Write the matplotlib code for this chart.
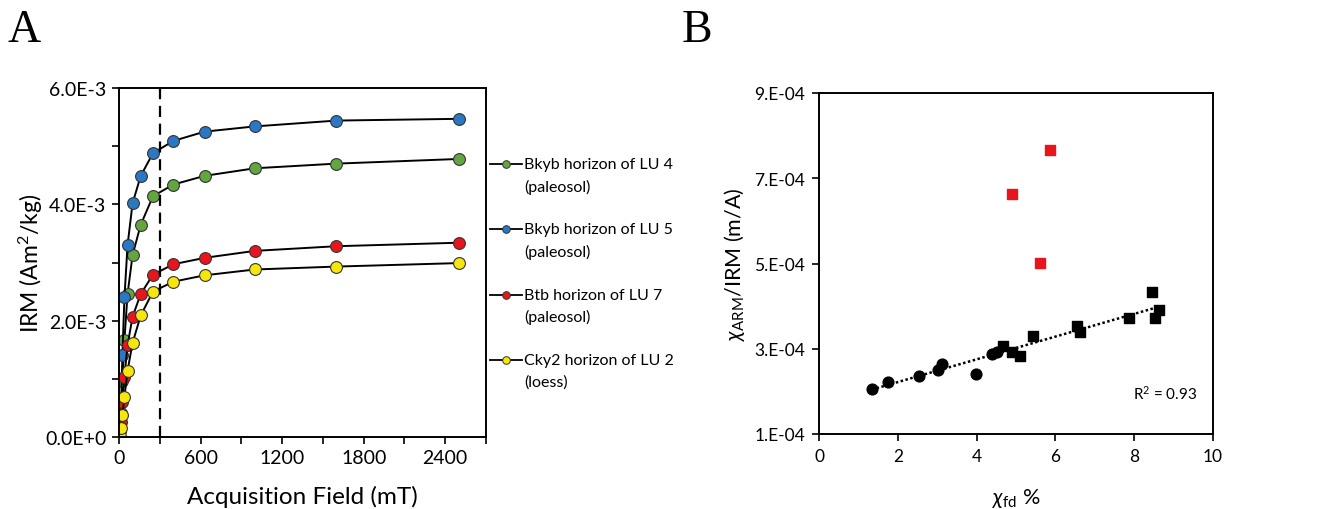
import matplotlib.pyplot as plt
from matplotlib.lines import Line2D
import numpy as np

plt.rcParams['font.family'] = ['Lato', 'DejaVu Sans']
plt.rcParams['mathtext.fontset'] = 'custom'
plt.rcParams['mathtext.rm'] = 'Lato'
plt.rcParams['mathtext.it'] = 'Lato:italic'

W, H = 1317, 510

# Panel A: IRM acquisition curves
field = [0, 10, 16, 25, 40, 63, 100, 160, 250, 400, 630, 1000, 1600, 2500]
irm_lu4 = [0, 0.20, 0.42, 0.96, 1.67, 2.46, 3.13, 3.65, 4.14, 4.34, 4.49, 4.62, 4.70, 4.78]
irm_lu5 = [0, 0.30, 0.60, 1.41, 2.40, 3.30, 4.02, 4.49, 4.88, 5.09, 5.25, 5.34, 5.44, 5.47]
irm_lu7 = [0, 0.10, 0.26, 0.60, 1.04, 1.58, 2.07, 2.46, 2.79, 2.97, 3.08, 3.20, 3.28, 3.34]
irm_lu2 = [0, 0.02, 0.15, 0.37, 0.69, 1.14, 1.62, 2.09, 2.50, 2.67, 2.78, 2.88, 2.93, 2.99]

series_line1 = ['Bkyb horizon of LU 4', 'Bkyb horizon of LU 5',
                'Btb horizon of LU 7', 'Cky2 horizon of LU 2']
series_line2 = ['(paleosol)', '(paleosol)', '(paleosol)', '(loess)']
series_colors = ['#63a53f', '#2a77c4', '#e8161c', '#f6e60c']

# Panel B: chi_ARM/IRM vs chi_fd
circ_x = [1.34, 1.76, 2.54, 3.01, 3.13, 3.99, 4.40, 4.51]
circ_y = [2.06, 2.21, 2.36, 2.50, 2.64, 2.40, 2.87, 2.92]
sq_x = [4.67, 4.90, 5.11, 5.44, 6.54, 6.63, 7.87, 8.46, 8.53, 8.64]
sq_y = [3.07, 2.93, 2.84, 3.29, 3.54, 3.40, 3.72, 4.34, 3.73, 3.90]
red_x = [5.86, 4.90, 5.62]
red_y = [7.67, 6.64, 5.01]

fig = plt.figure(figsize=(W / 100, H / 100), dpi=100)

# ---- panel A ----
axA = fig.add_axes([119/W, 1-438/H, 367/W, 349/H])
for ys, col in zip([irm_lu4, irm_lu5, irm_lu7, irm_lu2], series_colors):
    axA.plot(field, np.array(ys) * 1e-3, '-', color='black', lw=1.4,
             marker='o', ms=8.5, mfc=col, mec='#333333', mew=0.8)
axA.axvline(300, color='black', ls=(0, (5, 3)), lw=1.6)
axA.set_xlim(0, 2700)
axA.set_ylim(0, 6e-3)
axA.set_xticks(np.arange(0, 2701, 300))
axA.set_xticklabels([str(v) if v % 600 == 0 else '' for v in range(0, 2701, 300)])
axA.set_yticks(np.arange(0, 6.01e-3, 1e-3))
axA.set_yticklabels(['0.0E+0', '', '2.0E-3', '', '4.0E-3', '', '6.0E-3'])
axA.tick_params(labelsize=14, length=5, width=1.2, direction='out', pad=4)
for s in axA.spines.values():
    s.set_linewidth(1.4)
axA.set_ylabel('IRM (Am$^2$/kg)', fontsize=16.5, labelpad=0)
axA.set_xlabel('Acquisition Field (mT)', fontsize=17.5, labelpad=13)

# legend, drawn by hand so the marker lines up with the first text line
for i, (t1, t2, col) in enumerate(zip(series_line1, series_line2, series_colors)):
    yrow = 1 - (165 + 65.3 * i) / H
    fig.add_artist(Line2D([490/W, 522/W], [yrow, yrow], color='black', lw=1.3))
    fig.add_artist(Line2D([506/W], [yrow], marker='o', ms=5.5, mfc=col,
                          mec='#333333', mew=0.7, ls='none'))
    fig.text(524/W, yrow, t1, fontsize=11.5, va='center', ha='left')
    fig.text(524/W, yrow - 22/H, t2, fontsize=11.5, va='center', ha='left')

fig.text(8/W, 1-31/H, 'A', fontsize=33, family='Liberation Serif', va='center')
fig.text(682/W, 1-31/H, 'B', fontsize=33, family='Liberation Serif', va='center')

# ---- panel B ----
axB = fig.add_axes([819/W, 1-435/H, 394/W, 341/H])
axB.scatter(circ_x, np.array(circ_y) * 1e-4, marker='o', s=60, color='black', zorder=3)
axB.scatter(sq_x, np.array(sq_y) * 1e-4, marker='s', s=55, color='black', zorder=3)
axB.scatter(red_x, np.array(red_y) * 1e-4, marker='s', s=55, color='#e8161c', zorder=3)
all_x = np.array(circ_x + sq_x)
all_y = np.array(circ_y + sq_y) * 1e-4
k, b = np.polyfit(all_x, all_y, 1)
xx = np.array([all_x.min(), all_x.max()])
axB.plot(xx, k * xx + b, color='black', ls=(0, (1, 1)), lw=1.8, zorder=2)
axB.text(0.96, 0.12, 'R$^2$ = 0.93', transform=axB.transAxes, ha='right', va='center', fontsize=11)
axB.set_xlim(0, 10)
axB.set_ylim(1e-4, 9e-4)
axB.set_xticks(np.arange(0, 11, 2))
axB.set_yticks(np.arange(1e-4, 9.01e-4, 2e-4))
axB.set_yticklabels(['1.E-04', '3.E-04', '5.E-04', '7.E-04', '9.E-04'])
axB.tick_params(labelsize=12.5, length=5, width=1.2, direction='out', pad=5)
for s in axB.spines.values():
    s.set_linewidth(1.4)
axB.set_ylabel(r'$\chi_{\mathrm{ARM}}$/IRM (m/A)', fontsize=15.5, labelpad=5)
axB.set_xlabel(r'$\chi_{\mathrm{fd}}$ %', fontsize=15.5, labelpad=16)

fig.savefig('out.png', dpi=100)
